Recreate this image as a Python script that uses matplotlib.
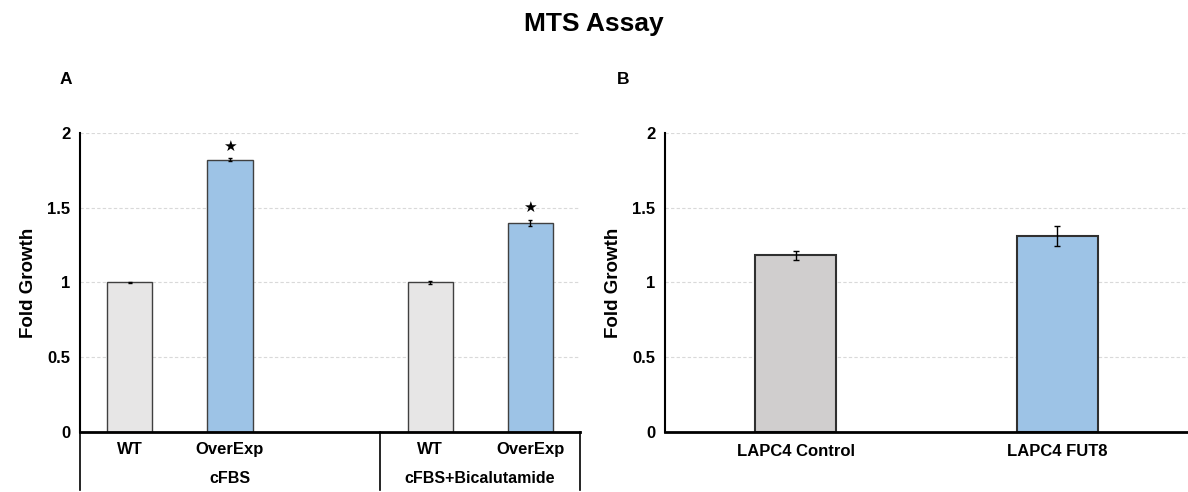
import numpy as np
import matplotlib
matplotlib.use('Agg')
import matplotlib.pyplot as plt

plt.rcParams['font.family'] = ['Liberation Sans', 'DejaVu Sans']
plt.rcParams['font.weight'] = 'bold'

# panel A data (blank category separates the two groups)
a_cats = ['WT', 'OverExp', '', 'WT', 'OverExp']
a_groups = ['cFBS', 'cFBS', 'cFBS', 'cFBS+Bicalutamide', 'cFBS+Bicalutamide']
a_vals = [1.0, 1.82, np.nan, 1.0, 1.40]
a_err = [0.003, 0.01, np.nan, 0.008, 0.02]
a_star = [False, True, False, False, True]
a_colors = ['#E7E6E6', '#9DC3E6', '#E7E6E6', '#E7E6E6', '#9DC3E6']

# panel B data
b_cats = ['LAPC4 Control', 'LAPC4 FUT8']
b_vals = [1.18, 1.31]
b_err = [0.03, 0.065]
b_colors = ['#D0CECE', '#9DC3E6']

yticks = [0, 0.5, 1, 1.5, 2]
ytick_labels = ['0', '0.5', '1', '1.5', '2']


def style_axis(ax):
    ax.set_ylim(0, 2)
    ax.set_yticks(yticks)
    ax.set_yticklabels(ytick_labels, fontsize=12, fontweight='bold')
    ax.tick_params(axis='y', length=0, pad=7)
    ax.tick_params(axis='x', length=0)
    ax.set_xticks([])
    for y in yticks[1:]:
        ax.axhline(y, color='#D9D9D9', lw=0.8, ls=(0, (3, 2)), zorder=0)
    ax.spines['top'].set_visible(False)
    ax.spines['right'].set_visible(False)
    ax.spines['left'].set_linewidth(1.5)
    ax.spines['bottom'].set_linewidth(2)
    ax.set_ylabel('Fold Growth', fontsize=13.5, fontweight='bold', labelpad=7)


fig = plt.figure(figsize=(11.88, 4.92), dpi=100)
fig.suptitle('MTS Assay', fontsize=19, fontweight='bold', y=0.975)

# ---- panel A ----
ax1 = fig.add_axes([0.0673, 0.122, 0.421, 0.608])
x = np.arange(len(a_cats))
ax1.bar(x, a_vals, width=0.45, color=a_colors, edgecolor='#404040', linewidth=1, zorder=2)
ax1.errorbar(x, a_vals, yerr=a_err, fmt='none', ecolor='black', elinewidth=1,
             capsize=1.5, capthick=1, zorder=3)
for i in range(len(a_cats)):
    if a_star[i]:
        ax1.text(x[i], a_vals[i] + a_err[i] + 0.03, '★', ha='center', va='bottom',
                 fontsize=11, family=['DejaVu Sans'])
ax1.set_xlim(-0.5, len(a_cats) - 0.5)
style_axis(ax1)

trans = ax1.get_xaxis_transform()
for i, c in enumerate(a_cats):
    if c:
        ax1.text(x[i], -0.06, c, transform=trans, ha='center', va='center',
                 fontsize=12, fontweight='bold')
# group spans and separator lines
names = []
for g in a_groups:
    if g not in names:
        names.append(g)
bounds = [-0.5]
for g in names:
    idx = [i for i, gg in enumerate(a_groups) if gg == g]
    lo, hi = idx[0] - 0.5, idx[-1] + 0.5
    ax1.text((lo + hi) / 2, -0.155, g, transform=trans, ha='center', va='center',
             fontsize=11.5, fontweight='bold')
    bounds.append(hi)
for b in bounds:
    ax1.plot([b, b], [0, -0.195], transform=trans, color='black', lw=1.2, clip_on=False)
fig.text(0.05, 0.83, 'A', fontsize=12.5, fontweight='bold')

# ---- panel B ----
ax2 = fig.add_axes([0.5598, 0.122, 0.4402, 0.608])
xb = np.arange(len(b_cats))
ax2.bar(xb, b_vals, width=0.31, color=b_colors, edgecolor='#303030', linewidth=1.5, zorder=2)
ax2.errorbar(xb, b_vals, yerr=b_err, fmt='none', ecolor='black', elinewidth=1,
             capsize=2, capthick=1, zorder=3)
ax2.set_xlim(-0.5, len(b_cats) - 0.5)
style_axis(ax2)
transb = ax2.get_xaxis_transform()
for i, c in enumerate(b_cats):
    ax2.text(xb[i], -0.065, c, transform=transb, ha='center', va='center',
             fontsize=12, fontweight='bold')
fig.text(0.519, 0.83, 'B', fontsize=12.5, fontweight='bold')

plt.savefig('out.png', dpi=100)
